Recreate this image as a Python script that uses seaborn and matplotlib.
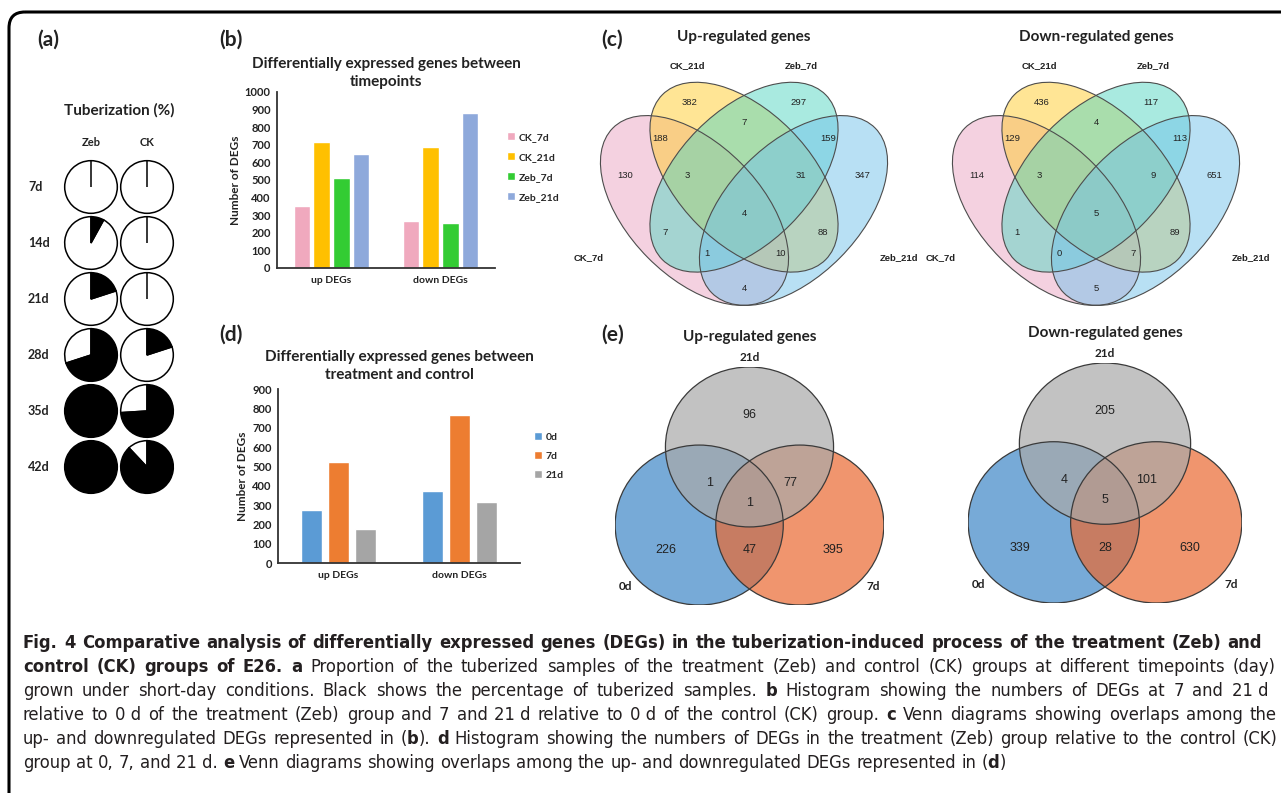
import matplotlib
matplotlib.use("Agg")
import matplotlib.pyplot as plt
import matplotlib.patches as mpatches
from matplotlib import font_manager
import numpy as np
import pandas as pd
import seaborn as sns

W, H, DPI = 1281, 793, 100

# ---------------- data ----------------
tuber_days = ['7d', '14d', '21d', '28d', '35d', '42d']
tuber_groups = ['Zeb', 'CK']
tuber_zeb = [0, 8, 20, 70, 100, 100]
tuber_ck = [0, 0, 0, 20, 74, 88]

deg_cats = ['up DEGs', 'down DEGs']

tp_series = ['CK_7d', 'CK_21d', 'Zeb_7d', 'Zeb_21d']
tp_up = [352, 716, 513, 646]
tp_down = [267, 688, 258, 881]
tp_colors = ['#F0A9BE', '#FFC000', '#33CC33', '#8EA9DB']

tc_series = ['0d', '7d', '21d']
tc_up = [275, 525, 178]
tc_down = [374, 764, 314]
tc_colors = ['#5B9BD5', '#ED7D31', '#A5A5A5']

venn4_sets = ['CK_7d', 'CK_21d', 'Zeb_7d', 'Zeb_21d']
venn4_regions = ['A', 'B', 'C', 'D', 'AB', 'BC', 'CD', 'ABC', 'BCD', 'ABCD',
                 'AC', 'BD', 'ACD', 'ABD', 'AD']
venn4_up = [130, 382, 297, 347, 188, 7, 159, 3, 31, 4, 7, 88, 1, 10, 4]
venn4_down = [114, 436, 117, 651, 129, 4, 113, 3, 9, 5, 1, 89, 0, 7, 5]
venn4_colors = ['#EBA5C3', '#FFCD2D', '#55D7C3', '#73C3EB']

venn3_sets = ['0d', '7d', '21d']
venn3_regions = ['A', 'AB', 'B', 'AC', 'BC', 'ABC', 'C']
venn3_up = [226, 47, 395, 1, 77, 1, 96]
venn3_down = [339, 28, 630, 4, 101, 5, 205]
venn3_colors = ['#3E86C6', '#EA6930', '#A9A9A9']

caption_lines = [
    "**Fig. 4 Comparative analysis of differentially expressed genes (DEGs) in the tuberization-induced process of the treatment (Zeb) and**",
    "**control (CK) groups of E26. a** Proportion of the tuberized samples of the treatment (Zeb) and control (CK) groups at different timepoints (day)",
    "grown under short-day conditions. Black shows the percentage of tuberized samples. **b** Histogram showing the numbers of DEGs at 7 and 21\u00a0d",
    "relative to 0\u00a0d of the treatment (Zeb) group and 7 and 21\u00a0d relative to 0\u00a0d of the control (CK) group. **c** Venn diagrams showing overlaps among the",
    "up- and downregulated DEGs represented in (**b**). **d** Histogram showing the numbers of DEGs in the treatment (Zeb) group relative to the control (CK)",
    "group at 0, 7, and 21\u00a0d. **e** Venn diagrams showing overlaps among the up- and downregulated DEGs represented in (**d**)",
]

# ---------------- layout (unit coords of venn axes) ----------------
V4_SHAPES = [((0.35, 0.47), -45), ((0.5, 0.57), -45), ((0.5, 0.57), 45), ((0.65, 0.47), 45)]
V4_TEXT = {'A': (0.14, 0.576), 'B': (0.335, 0.795), 'C': (0.665, 0.795), 'D': (0.86, 0.576),
           'AB': (0.245, 0.687), 'BC': (0.5, 0.735), 'CD': (0.755, 0.687),
           'ABC': (0.327, 0.576), 'BCD': (0.673, 0.576), 'ABCD': (0.5, 0.462),
           'AC': (0.26, 0.405), 'BD': (0.74, 0.405), 'ACD': (0.388, 0.341),
           'ABD': (0.612, 0.341), 'AD': (0.5, 0.236)}
V4_LABELS = [(0.03, 0.33), (0.327, 0.906), (0.673, 0.906), (0.97, 0.33)]

V3_SHAPES = [(0.313, 0.336), (0.687, 0.336), (0.5, 0.664)]
V3_TEXT = {'A': (0.19, 0.231), 'AB': (0.5, 0.231), 'B': (0.81, 0.231),
           'AC': (0.35, 0.513), 'BC': (0.65, 0.513), 'ABC': (0.5, 0.429), 'C': (0.5, 0.798)}
V3_LABELS = [(0.04, 0.076), (0.96, 0.076), (0.5, 1.038)]

sns.set_style('white')
plt.rcParams['font.family'] = ['Lato', 'DejaVu Sans']
TXT = '#222222'

fig = plt.figure(figsize=(W / DPI, H / DPI), dpi=DPI)


def px_axes(left, top, width, height):
    ax = fig.add_axes([left / W, 1 - (top + height) / H, width / W, height / H])
    ax.set_facecolor('none')
    return ax


overlay = px_axes(0, 0, W, H)
overlay.set_xlim(0, W)
overlay.set_ylim(H, 0)
overlay.axis('off')

# rounded frame
overlay.add_patch(mpatches.FancyBboxPatch((9, 12), W + 60, H + 60,
                                          boxstyle='round,pad=0,rounding_size=16',
                                          fill=False, lw=2.2, ec='black'))

for lab, (x, y) in {'(a)': (48, 40), '(b)': (231, 40), '(c)': (612, 40),
                    '(d)': (231, 335), '(e)': (613, 335)}.items():
    overlay.text(x, y, lab, fontsize=15, fontweight='bold', ha='center', va='center', color=TXT)

# ---------------- (a) pies ----------------
ax_a = px_axes(63, 159, 112, 336)
for ci, vals in enumerate([tuber_zeb, tuber_ck]):
    for ri, v in enumerate(vals):
        ax_a.pie([100 - v, v], center=(ci, -ri), radius=0.47, colors=['white', 'black'],
                 startangle=90, counterclock=True,
                 wedgeprops=dict(edgecolor='black', linewidth=1.1))
ax_a.set_xlim(-0.5, 1.5)
ax_a.set_ylim(-5.5, 0.5)
for ri, day in enumerate(tuber_days):
    ax_a.text(-1.125, -ri, day, ha='left', va='center', fontsize=9, fontweight='bold',
              color=TXT, clip_on=False)
for ci, grp in enumerate(tuber_groups):
    ax_a.text(ci, 0.79, grp, ha='center', va='center', fontsize=8, fontweight='bold',
              color=TXT, clip_on=False)
ax_a.text(0.5, 1.375, 'Tuberization (%)', ha='center', va='center', fontsize=11,
          fontweight='bold', color=TXT, clip_on=False)


# ---------------- (b), (d) bars ----------------
def bar_panel(ax, series, up, down, colors, width, gap, ymax, title, pad, leg_xy, spacing):
    df = pd.DataFrame({'category': np.repeat(deg_cats, len(series)),
                       'series': list(series) * 2,
                       'count': list(up) + list(down)})
    sns.barplot(data=df, x='category', y='count', hue='series', hue_order=series,
                palette=colors, width=width, gap=gap, saturation=1, ax=ax)
    sns.despine(ax=ax)
    ax.set_ylim(0, ymax)
    ax.set_yticks(np.arange(0, ymax + 1, 100))
    ax.set_xlim(-0.5, 1.5)
    for s in ['left', 'bottom']:
        ax.spines[s].set_color('#333333')
        ax.spines[s].set_linewidth(1.3)
    ax.tick_params(axis='y', direction='out', length=3, width=1, pad=1.5,
                   labelsize=8, color='#333333', labelcolor=TXT)
    ax.tick_params(axis='x', which='major', length=0, pad=6, labelsize=7.5, labelcolor=TXT)
    ax.set_xticks([0.5], minor=True)
    ax.tick_params(axis='x', which='minor', length=4, width=1, direction='out', color='#333333')
    for t in ax.get_xticklabels() + ax.get_yticklabels():
        t.set_fontweight('bold')
    ax.set_xlabel('')
    ax.set_ylabel('Number of DEGs', fontsize=8.5, fontweight='bold', labelpad=3, color=TXT)
    ax.set_title(title, fontsize=11, fontweight='bold', pad=pad, color=TXT, linespacing=1.4)
    sns.move_legend(ax, 'upper left', bbox_to_anchor=(leg_xy[0] / W, 1 - leg_xy[1] / H),
                    bbox_transform=fig.transFigure, frameon=False, title=None,
                    prop={'weight': 'bold', 'size': 7.5}, handlelength=0.8, handleheight=0.8,
                    handletextpad=0.35, labelspacing=spacing, borderpad=0, borderaxespad=0)


ax_b = px_axes(277, 92, 218, 176)
bar_panel(ax_b, tp_series, tp_up, tp_down, tp_colors, 0.727, 0.18, 1000,
          'Differentially expressed genes between\ntimepoints', 4, (507, 132), 1.0)

ax_d = px_axes(278, 389, 242, 174)
bar_panel(ax_d, tc_series, tc_up, tc_down, tc_colors, 0.66, 0.22, 900,
          'Differentially expressed genes between\ntreatment and control', 7, (534, 432), 0.9)


# ---------------- (c) four-set venns ----------------
def draw_venn4(ax, counts, title):
    ax.set_xlim(0, 1)
    ax.set_ylim(0, 1)
    ax.axis('off')
    for (c, ang), col in zip(V4_SHAPES, venn4_colors):
        ax.add_patch(mpatches.Ellipse(c, 0.7, 0.4, angle=ang, facecolor=col,
                                      edgecolor='none', alpha=0.5))
    for c, ang in V4_SHAPES:
        ax.add_patch(mpatches.Ellipse(c, 0.7, 0.4, angle=ang, fill=False,
                                      edgecolor='#4d4d4d', lw=0.8))
    for reg, n in zip(venn4_regions, counts):
        ax.text(*V4_TEXT[reg], str(n), ha='center', va='center', fontsize=6.8,
                family='Liberation Sans', color=TXT)
    for name, pos in zip(venn4_sets, V4_LABELS):
        ax.text(*pos, name, ha='center', va='center', fontsize=6.8, fontweight='bold',
                family='Liberation Sans', color=TXT, clip_on=False)
    ax.text(0.5, 0.99, title, ha='center', va='center', fontsize=11, fontweight='bold',
            color=TXT, clip_on=False)


draw_venn4(px_axes(579, 34, 330, 333), venn4_up, 'Up-regulated genes')
draw_venn4(px_axes(931, 34, 330, 333), venn4_down, 'Down-regulated genes')


# ---------------- (e) three-set venns ----------------
def draw_venn3(ax, counts, title):
    ax.set_xlim(0, 1)
    ax.set_ylim(0, 1)
    ax.axis('off')
    for c, col in zip(V3_SHAPES, venn3_colors):
        ax.add_patch(mpatches.Ellipse(c, 0.625, 0.672, facecolor=col, edgecolor='none', alpha=0.7))
    for c in V3_SHAPES:
        ax.add_patch(mpatches.Ellipse(c, 0.625, 0.672, fill=False, edgecolor='#3a3a3a', lw=0.9))
    for reg, n in zip(venn3_regions, counts):
        ax.text(*V3_TEXT[reg], str(n), ha='center', va='center', fontsize=9,
                family='Liberation Sans', color=TXT)
    for name, pos in zip(venn3_sets, V3_LABELS):
        ax.text(*pos, name, ha='center', va='center', fontsize=8.5, fontweight='bold',
                color=TXT, clip_on=False)
    ax.text(0.5, 1.126, title, ha='center', va='center', fontsize=11, fontweight='bold',
            color=TXT, clip_on=False)


draw_venn3(px_axes(615, 367, 269, 238), venn3_up, 'Up-regulated genes')
draw_venn3(px_axes(968, 363, 274, 240), venn3_down, 'Down-regulated genes')


# ---------------- caption ----------------
def parse_caption(line):
    words, bold, new_word = [], False, True
    for i, chunk in enumerate(line.split('**')):
        if i > 0:
            bold = not bold
        for j, part in enumerate(chunk.split(' ')):
            if j > 0:
                new_word = True
            if part == '':
                continue
            if new_word or not words:
                words.append([(part, bold)])
                new_word = False
            else:
                words[-1].append((part, bold))
    return words


def norm(s):
    return s.lower().replace(' ', '').replace('-', '').replace('_', '')


def font_ok(fam, st):
    # the family must exist with the wanted width in both regular and bold
    paths = []
    for wt in ['normal', 'bold']:
        try:
            paths.append(font_manager.findfont(
                font_manager.FontProperties(family=fam, stretch=st, weight=wt),
                fallback_to_default=False))
        except Exception:
            return False
    reg, bld = norm(paths[0]), norm(paths[1])
    if 'bold' not in bld or reg == bld:
        return False
    key = 'condensed' if st == 'condensed' else norm(fam)
    return key in reg and key in bld


renderer = fig.canvas.get_renderer()
CAP_COLOR = '#231F20'
FS_TARGET = 12.5
cap_left = 23
cap_right = [1262, 1276, 1268, 1277, 1277]
cap_base = [648, 672, 696, 720, 744, 768]
parsed = [parse_caption(line) for line in caption_lines]


def cap_text(s, bold, fs, font):
    return overlay.text(0, 0, s, fontsize=fs, fontweight='bold' if bold else 'normal',
                        family=font[0], fontstretch=font[1], color=CAP_COLOR,
                        ha='left', va='baseline')


def width_of(t):
    return t.get_window_extent(renderer).width


def space_width(fs, font):
    a, b = cap_text('n n', False, fs, font), cap_text('nn', False, fs, font)
    w = width_of(a) - width_of(b)
    a.remove()
    b.remove()
    return w


def build_rows(fs, font):
    return [[[cap_text(s, b, fs, font) for s, b in word] for word in words] for words in parsed]


def fitted_size(font):
    rows = build_rows(FS_TARGET, font)
    sp = space_width(FS_TARGET, font)
    scale = min((cap_right[li] - cap_left) /
                (sum(width_of(t) for word in row for t in word) + sp * (len(row) - 1))
                for li, row in enumerate(rows[:5]))
    for row in rows:
        for word in row:
            for t in word:
                t.remove()
    return FS_TARGET * scale * 0.99


candidates = [('Liberation Sans Narrow', 'normal'), ('DejaVu Sans', 'condensed'),
              ('Roboto Condensed', 'normal'), ('Noto Sans', 'condensed'),
              ('Open Sans', 'condensed'), ('Liberation Sans', 'normal'),
              ('Noto Sans', 'normal'), ('Lato', 'normal'), ('Roboto', 'normal')]
best = None
for font in candidates:
    if not font_ok(*font):
        continue
    fs_fit = fitted_size(font)
    if best is None or abs(fs_fit - FS_TARGET) < abs(best[1] - FS_TARGET):
        best = (font, fs_fit)
cap_font = best[0] if best else ('DejaVu Sans', 'normal')
cap_fs = min(best[1], FS_TARGET * 1.06) if best else 10.5

rows = build_rows(cap_fs, cap_font)
sp = space_width(cap_fs, cap_font)
for li, row in enumerate(rows):
    widths = [[width_of(t) for t in word] for word in row]
    total = sum(sum(w) for w in widths)
    gap = (cap_right[li] - cap_left - total) / (len(row) - 1) if li < 5 else sp
    x = cap_left
    for word, ws in zip(row, widths):
        for t, w in zip(word, ws):
            t.set_position((x, cap_base[li]))
            x += w
        x += gap

fig.savefig('out.png', dpi=DPI)
